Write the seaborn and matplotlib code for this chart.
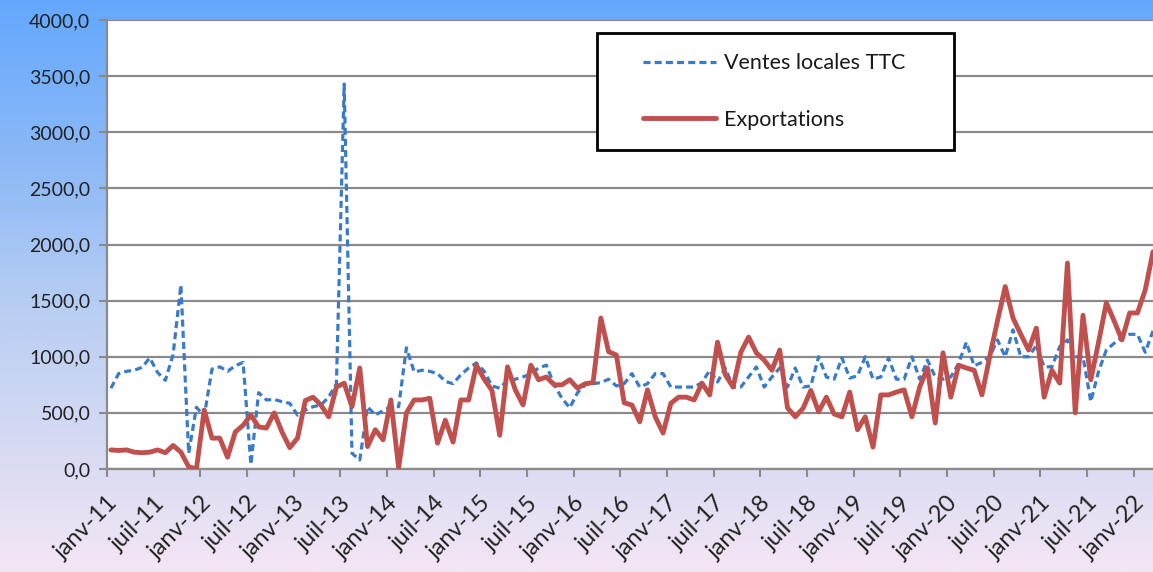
import numpy as np
import pandas as pd
import seaborn as sns
import matplotlib.pyplot as plt
from matplotlib.colors import LinearSegmentedColormap
from matplotlib.patches import Rectangle
from matplotlib.ticker import FuncFormatter
from matplotlib.transforms import ScaledTranslation


# Monthly values, janv-11 -> mars-22
ventes_locales = [
    720, 850, 870, 880, 905, 990, 860, 790, 1020, 1640, 140, 550,
    470, 890, 910, 870, 920, 950, 40, 680, 615, 620, 600, 585,
    480, 525, 555, 570, 640, 760, 3430, 140, 80, 555, 480, 520,
    555, 555, 1080, 865, 880, 870, 850, 780, 760, 840, 900, 945,
    870, 740, 720, 790, 800, 820, 850, 900, 925, 750, 630, 545,
    680, 750, 760, 770, 800, 740, 760, 850, 730, 760, 850, 850,
    730, 730, 730, 730, 770, 880, 775, 900, 730, 730, 820, 910,
    730, 820, 900, 730, 900, 730, 740, 1000, 820, 800, 990, 810,
    830, 1000, 800, 820, 990, 800, 800, 1000, 800, 970, 820, 800,
    820, 940, 1130, 920, 950, 1000, 1150, 1000, 1240, 1000, 1000, 1100,
    910, 910, 1090, 1150, 1000, 1000, 600, 870, 1060, 1120, 1170, 1200,
    1200, 1040, 1230,
]
exportations = [
    170, 165, 170, 150, 145, 150, 170, 145, 210, 150, 20, 0,
    525, 275, 275, 105, 330, 390, 480, 375, 365, 500, 330, 190,
    275, 610, 640, 570, 465, 730, 765, 555, 900, 200, 350, 260,
    615, 10, 500, 615, 615, 630, 230, 435, 240, 615, 615, 925,
    800, 700, 300, 910, 705, 570, 925, 795, 820, 750, 750, 795,
    720, 760, 770, 1345, 1045, 1015, 590, 570, 420, 705, 465, 320,
    585, 640, 640, 615, 765, 660, 1130, 840, 730, 1040, 1175, 1035,
    970, 880, 1060, 545, 465, 540, 700, 510, 640, 490, 465, 685,
    350, 465, 195, 660, 660, 685, 705, 465, 730, 900, 410, 1035,
    640, 925, 900, 880, 660, 1000, 1320, 1625, 1345, 1200, 1060, 1255,
    640, 880, 765, 1835, 500, 1370, 795, 1130, 1480, 1320, 1150, 1390,
    1390, 1595, 1935,
]
tick_labels = [
    "janv-11", "juil-11", "janv-12", "juil-12", "janv-13", "juil-13",
    "janv-14", "juil-14", "janv-15", "juil-15", "janv-16", "juil-16",
    "janv-17", "juil-17", "janv-18", "juil-18", "janv-19", "juil-19",
    "janv-20", "juil-20", "janv-21", "juil-21", "janv-22",
]
y_ticks = [0, 500, 1000, 1500, 2000, 2500, 3000, 3500, 4000]

BLUE = "#3a7bc8"
RED = "#c0504d"
GRID = "#8a8a8a"

sns.set_theme(style="white")
plt.rcParams["font.family"] = ["Lato", "DejaVu Sans"]

df = pd.DataFrame({
    "mois": np.arange(len(ventes_locales)) + 0.5,
    "Ventes locales TTC": ventes_locales,
    "Exportations": exportations,
})

fig = plt.figure(figsize=(11.53, 5.72), dpi=100)

# background gradient (blue -> lavender)
bg = fig.add_axes([0, 0, 1, 1])
cmap = LinearSegmentedColormap.from_list(
    "bg",
    [(0.0, "#64a8fe"), (0.3, "#8fbaf6"), (0.55, "#bacff3"),
     (0.82, "#dcdcf3"), (1.0, "#f5e6f5")],
)
bg.imshow(np.linspace(0, 1, 256)[:, None], aspect="auto", cmap=cmap,
          extent=[0, 1, 0, 1])
bg.axis("off")

ax = fig.add_axes([107 / 1153, 1 - 469 / 572, 1046 / 1153, 449 / 572])
ax.set_facecolor("white")

sns.lineplot(data=df, x="mois", y="Ventes locales TTC", ax=ax, color=BLUE,
             linewidth=2.3, linestyle=(0, (2.2, 1.3)),
             label="Ventes locales TTC", zorder=2)
sns.lineplot(data=df, x="mois", y="Exportations", ax=ax, color=RED,
             linewidth=3.5, label="Exportations", zorder=3)

ax.set_xlim(0, len(ventes_locales) - 0.5)
ax.set_ylim(0, 4000)
ax.set_xlabel("")
ax.set_ylabel("")

ax.set_xticks(np.arange(0, 6 * len(tick_labels), 6))
ax.set_xticklabels(tick_labels, rotation=45, ha="right", va="top",
                   rotation_mode="anchor", fontsize=17, color="#222222")
shift = ScaledTranslation(7 / 100, 0, fig.dpi_scale_trans)
for lab in ax.get_xticklabels():
    lab.set_transform(lab.get_transform() + shift)

ax.set_yticks(y_ticks)
ax.yaxis.set_major_formatter(
    FuncFormatter(lambda v, p: f"{v:.1f}".replace(".", ",")))
for lab in ax.get_yticklabels():
    lab.set_fontsize(14)
    lab.set_color("#222222")

ax.set_axisbelow(True)
ax.yaxis.grid(True, color=GRID, linewidth=1.6)
ax.xaxis.grid(False)
ax.tick_params(axis="both", direction="out", length=6, width=1.5,
               color=GRID, bottom=True, left=True)
ax.tick_params(axis="x", pad=11)
ax.tick_params(axis="y", pad=6)
for side in ["top", "right"]:
    ax.spines[side].set_visible(False)
for side in ["left", "bottom"]:
    ax.spines[side].set_color(GRID)
    ax.spines[side].set_linewidth(1.6)

# legend box
ax.add_patch(Rectangle((490 / 1046, (469 - 150) / 449), 357 / 1046, 117 / 449,
                       transform=ax.transAxes, facecolor="white",
                       edgecolor="black", linewidth=2, zorder=4))
leg = ax.legend(loc="center left", bbox_to_anchor=(536 / 1046, (469 - 91.5) / 449),
                frameon=False, borderpad=0, borderaxespad=0, fontsize=15.5,
                handlelength=3.4, handletextpad=0.35, labelspacing=1.7)
leg.set_zorder(5)
for t in leg.get_texts():
    t.set_color("#1a1a1a")

fig.savefig("out.png", dpi=100)
